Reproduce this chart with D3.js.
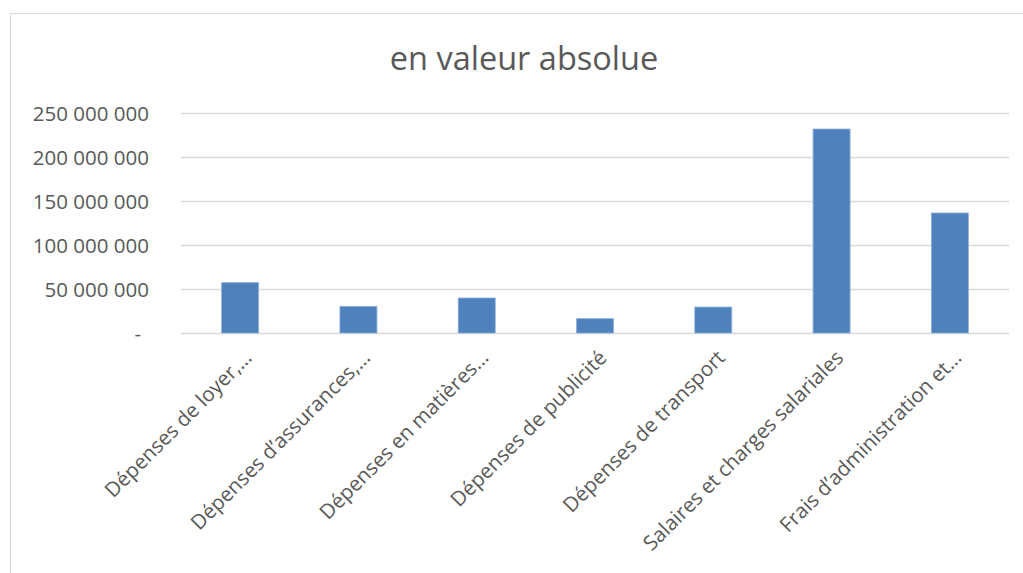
<!DOCTYPE html>
<html>
<head>
<meta charset="utf-8">
<script src="https://cdn.jsdelivr.net/npm/d3@7"></script>
<style>
  body { margin: 0; background: #fff; }
  svg { display: block; font-family: "Open Sans", sans-serif; }
</style>
</head>
<body>
<svg id="chart" width="1023" height="573"></svg>
<script>
var categories = [
  "Dépenses de loyer,…",
  "Dépenses d’assurances,…",
  "Dépenses en matières…",
  "Dépenses de publicité",
  "Dépenses de transport",
  "Salaires et charges salariales",
  "Frais d’administration et…"
];
var values = [57200000, 30300000, 39800000, 16300000, 29500000, 231800000, 136400000];
var yTicks = [0, 50000000, 100000000, 150000000, 200000000, 250000000];
var title = "en valeur absolue";

var svg = d3.select("#chart");
var plotLeft = 181, plotRight = 1009, plotTop = 113, plotBottom = 333;

// chart frame
svg.append("rect").attr("x", 10.5).attr("y", 13.5).attr("width", 1030).attr("height", 600)
	.attr("fill", "#fff").attr("stroke", "#d9d9d9").attr("stroke-width", 1);

var x = d3.scaleBand().domain(categories).range([plotLeft, plotRight]).paddingInner(0.687).paddingOuter(0.3435);
var y = d3.scaleLinear().domain([0, 250000000]).range([plotBottom, plotTop]);

function fmt(v) {
	if (v == 0) return "-";
	return d3.format(",")(v).replace(/,/g, " ");
}

// gridlines
svg.append("g").selectAll("line").data(yTicks).enter().append("line")
	.attr("x1", plotLeft).attr("x2", plotRight)
	.attr("y1", function (d) { return Math.round(y(d)) + 0.5; })
	.attr("y2", function (d) { return Math.round(y(d)) + 0.5; })
	.attr("stroke", "#d9d9d9").attr("stroke-width", 1.5);

// y labels
var yAxis = svg.append("g").attr("transform", "translate(" + (plotLeft - 32) + ",0)")
	.call(d3.axisLeft(y).tickValues(yTicks).tickFormat(fmt).tickSize(0).tickPadding(0));
yAxis.attr("font-family", null).attr("font-size", null);
yAxis.select(".domain").remove();
yAxis.selectAll("text").attr("font-size", 20.5).attr("fill", "#595959")
	.attr("dy", "0.38em")
	.attr("dx", function (d) { return d == 0 ? -8 : 0; });

// bars
svg.append("g").selectAll("rect").data(values).enter().append("rect")
	.attr("x", function (d, i) { return x(categories[i]); })
	.attr("width", x.bandwidth())
	.attr("y", function (d) { return y(d); })
	.attr("height", function (d) { return y(0) - y(d); })
	.attr("fill", "#4f81bd")
	.attr("stroke", "#8fb0d8").attr("stroke-width", 0.8);

// x labels
svg.append("g").selectAll("text").data(categories).enter().append("text")
	.attr("transform", function (d) {
		var cx = x(d) + x.bandwidth() / 2 + 13;
		return "translate(" + cx + ",359) rotate(-45)";
	})
	.attr("text-anchor", "end")
	.attr("font-size", 20.5)
	.attr("fill", "#595959")
	.text(function (d) { return d; });

// title
svg.append("text").attr("x", 524).attr("y", 70).attr("text-anchor", "middle")
	.attr("font-size", 32.5).attr("fill", "#595959").text(title);
</script>
</body>
</html>
